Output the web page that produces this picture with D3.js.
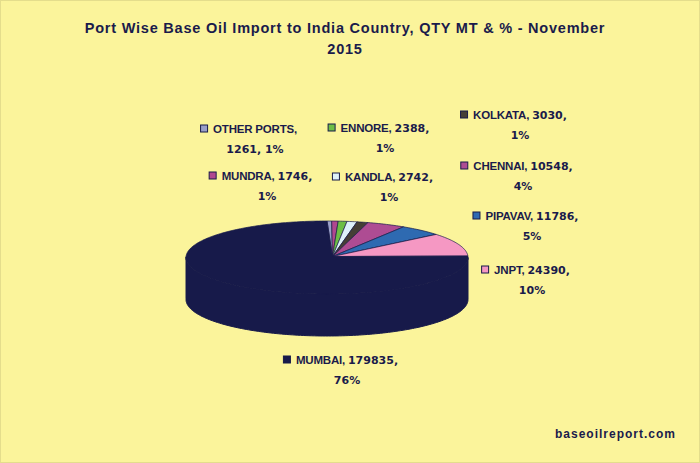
<!DOCTYPE html>
<html>
<head>
<meta charset="utf-8">
<script src="https://cdn.jsdelivr.net/npm/d3@7"></script>
<style>
  html, body { margin: 0; padding: 0; background: #fbf49b; }
  svg { display: block; }
  text { font-family: "Liberation Sans", Arial, sans-serif; font-weight: bold; fill: #1a1b4b; }
  .num { font-family: "DejaVu Sans", sans-serif; font-size: 11px; letter-spacing: 0; }
</style>
</head>
<body>
<script>
var ports = ["OTHER PORTS", "MUNDRA", "ENNORE", "KANDLA", "KOLKATA", "CHENNAI", "PIPAVAV", "JNPT", "MUMBAI"];
var qty = [1261, 1746, 2388, 2742, 3030, 10548, 11786, 24390, 179835];
var share = [1, 1, 1, 1, 1, 4, 5, 10, 76];
var colors = ["#9a9fc9", "#b0478f", "#6dbe45", "#def2fa", "#453f36", "#ae4c93", "#2e6ab1", "#f598c3", "#171a4a"];
var titleLines = ["Port Wise Base Oil Import to India Country, QTY MT & % - November", "2015"];

// where each label goes: centre of the text and baseline of its first line
var labelX = [255, 267, 385, 389, 520, 523, 532, 532, 347];
var labelY = [133, 180, 132, 181, 119, 170, 220, 274, 364];
// other ports is the only label that breaks before the number
var breakBeforeNumber = ["OTHER PORTS"];

var width = 700, height = 463;
var cx = 327, cy = 257.5, rx = 141, ry = 36.5, depth = 42;
var apex = [332.5, 256.5];   // slices meet a little right of the ellipse centre
var ink = "#171a4a";

var svg = d3.select("body").append("svg")
  .attr("width", width)
  .attr("height", height);

svg.append("rect")
  .attr("x", 0.5).attr("y", 0.5)
  .attr("width", width - 1).attr("height", height - 1)
  .attr("fill", "#fbf49b")
  .attr("stroke", "#e4dd8c");

svg.selectAll(".title")
  .data(titleLines)
  .enter()
  .append("text")
  .attr("class", "title")
  .attr("x", 345)
  .attr("y", function(d, i) { return 33 + i * 21; })
  .attr("text-anchor", "middle")
  .style("font-size", "14.5px")
  .style("letter-spacing", "0.78px")
  .text(function(d) { return d; });

function rimX(a) { return cx + rx * Math.sin(a); }
function rimY(a) { return cy - ry * Math.cos(a); }

// side wall, front half of the ellipse
var wall = d3.area()
  .x(rimX)
  .y0(rimY)
  .y1(function(a) { return rimY(a) + depth; });

svg.append("path")
  .attr("d", wall(d3.range(Math.PI / 2, Math.PI * 1.5 + 0.02, 0.02)))
  .attr("fill", colors[8])
  .attr("stroke", colors[8]);

// top face
var pie = d3.pie().sort(null)(qty);

function slicePath(d) {
  var steps = Math.max(2, Math.ceil((d.endAngle - d.startAngle) / 0.02));
  var rim = d3.range(steps + 1).map(function(k) {
    var a = d.startAngle + (d.endAngle - d.startAngle) * k / steps;
    return [rimX(a), rimY(a)];
  });
  return d3.line()([apex].concat(rim)) + "Z";
}

svg.append("g")
  .selectAll("path")
  .data(pie)
  .enter()
  .append("path")
  .attr("d", slicePath)
  .attr("fill", function(d, i) { return colors[i]; })
  .attr("stroke", ink)
  .attr("stroke-width", 0.7);

var labels = svg.selectAll(".label")
  .data(ports)
  .enter()
  .append("g")
  .attr("class", "label");

var line1 = labels.append("text")
  .attr("class", "l1")
  .attr("x", function(d, i) { return labelX[i]; })
  .attr("y", function(d, i) { return labelY[i]; })
  .attr("text-anchor", "middle")
  .style("font-size", "11.5px")
  .style("letter-spacing", "-0.2px");

line1.append("tspan")
  .text(function(d) { return d + ", "; });

line1.append("tspan")
  .attr("class", "num")
  .text(function(d, i) {
    return breakBeforeNumber.indexOf(d) >= 0 ? "" : qty[i] + ",";
  });

labels.append("text")
  .attr("class", "num")
  .attr("x", function(d, i) { return labelX[i]; })
  .attr("y", function(d, i) { return labelY[i] + 19.5; })
  .attr("text-anchor", "middle")
  .text(function(d, i) {
    return (breakBeforeNumber.indexOf(d) >= 0 ? qty[i] + ", " : "") + share[i] + "%";
  });

// legend keys sit left of the first line
labels.append("rect")
  .attr("width", 7).attr("height", 7)
  .attr("x", function(d, i) {
    var w = this.parentNode.querySelector(".l1").getComputedTextLength();
    return labelX[i] - w / 2 - 12.5;
  })
  .attr("y", function(d, i) { return labelY[i] - 8; })
  .attr("fill", function(d, i) { return colors[i]; })
  .attr("stroke", ink)
  .attr("stroke-width", 1);

svg.append("text")
  .attr("x", 676)
  .attr("y", 438)
  .attr("text-anchor", "end")
  .style("font-size", "12px")
  .style("letter-spacing", "1px")
  .text("baseoilreport.com");
</script>
</body>
</html>
